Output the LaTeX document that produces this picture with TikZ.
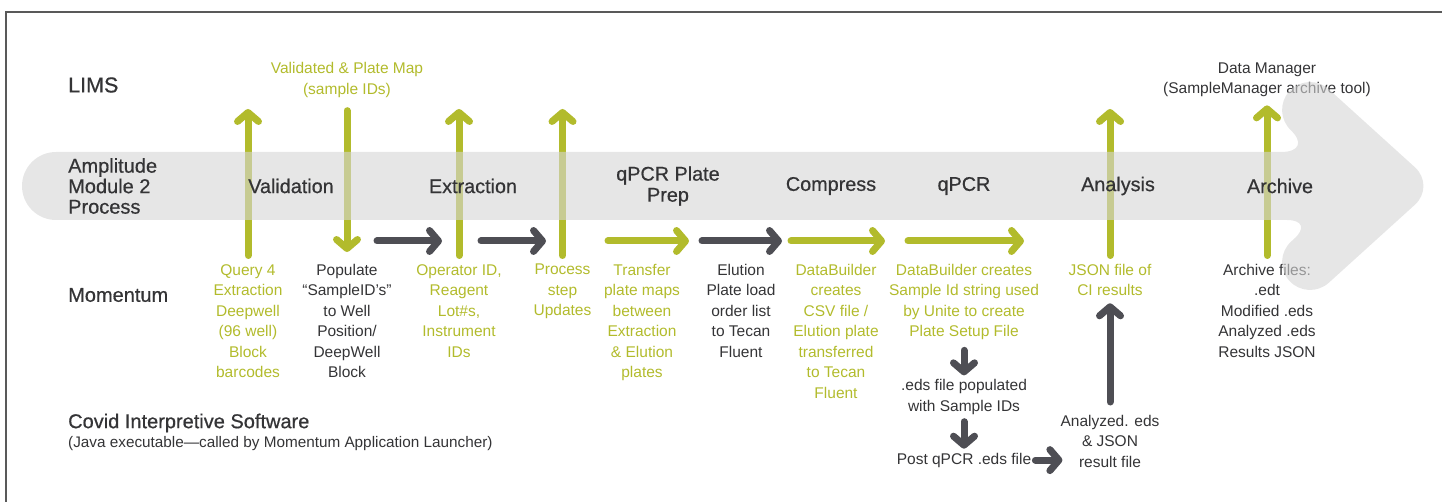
\documentclass[tikz,border=0pt]{standalone}
\usepackage{fontspec}
\setmainfont{Liberation Sans}
\newfontfamily\labelfont{Liberation Sans}[FakeBold=0.6]
\usetikzlibrary{arrows.meta,positioning}

\definecolor{limsgreen}{RGB}{178,187,44}
\definecolor{flowgray}{RGB}{78,78,84}
\definecolor{labelgray}{RGB}{52,52,54}
\definecolor{bandgray}{RGB}{214,214,214}

\begin{document}
\begin{tikzpicture}[
     x = 1pt, y = -1pt, % pixel grid, y runs down
     > = {Straight Barb[length=9pt, width=21pt, round]}, % arrow head style
     line cap = round
 ]

 \tikzstyle{rowlabel} = [
     text = labelgray,
     font = \labelfont\fontsize{20}{20.5}\selectfont,
     align = left,
     anchor = west,
     inner sep = 0pt
 ]
 \tikzstyle{stage} = [
     text = labelgray,
     font = \labelfont\fontsize{19.8}{21}\selectfont,
     align = center,
     inner sep = 0pt
 ]
 \tikzstyle{greennote} = [
     text = limsgreen,
     font = \fontsize{15.5}{20.5}\selectfont,
     align = center,
     inner sep = 0pt
 ]
 \tikzstyle{graynote} = [
     greennote,
     text = labelgray
 ]
 \tikzstyle{greenflow} = [
     ->,
     color = limsgreen,
     line width = 7pt
 ]
 \tikzstyle{grayflow} = [
     ->,
     color = flowgray,
     line width = 7pt
 ]

 \useasboundingbox (0,0) rectangle (1442,502);
 \draw[draw = black!65, line width = 1.5pt, line cap = butt] (6,502) -- (6,12) -- (1442,12);

 % LIMS side
 \node[greennote] (validated) at (347,80) {Validated \& Plate Map\\(sample IDs)};
 \node[graynote] (datamgr) at (1267,80) {Data Manager\\(SampleManager archive tool)};

 % Momentum side
 \node[greennote, anchor = north] (query) at (248,264) {Query 4\\Extraction\\Deepwell\\(96 well)\\Block\\barcodes};
 \node[graynote, anchor = north] (populate) at (347,264) {Populate\\“SampleID’s”\\to Well\\Position/\\DeepWell\\Block};
 \node[greennote, anchor = north] (operator) at (459,264) {Operator ID,\\Reagent\\Lot\#s,\\Instrument\\IDs};
 \node[greennote, anchor = north] (process) at (562.5,264) {Process\\step\\Updates};
 \node[greennote, anchor = north] (transfer) at (642,264) {Transfer\\plate maps\\between\\Extraction\\\& Elution\\plates};
 \node[graynote, anchor = north] (elution) at (741,264) {Elution\\Plate load\\order list\\to Tecan\\Fluent};
 \node[greennote, anchor = north] (csv) at (836,264) {DataBuilder\\creates\\CSV file /\\Elution plate\\transferred\\to Tecan\\Fluent};
 \node[greennote, anchor = north] (sampleid) at (964,264) {DataBuilder creates\\Sample Id string used\\by Unite to create\\Plate Setup File};
 \node[greennote, anchor = north] (json) at (1110,264) {JSON file of\\CI results};
 \node[graynote, anchor = north] (archfiles) at (1267,264) {Archive files:\\.edt\\Modified .eds\\Analyzed .eds\\Results JSON};

 % interpretive software side
 \node[graynote] (eds) [below = 39pt of sampleid] {.eds file populated\\with Sample IDs};
 \node[graynote] (post) [below = 38pt of eds] {Post qPCR .eds file};
 \node[graynote, anchor = north] (analyzed) at (1110,415) {Analyzed. eds\\\& JSON\\result file};

 % up to LIMS
 \coordinate (lims1) at (query |- 0,109);
 \coordinate (lims3) at (operator |- 0,109);
 \coordinate (lims4) at (process |- 0,109);
 \coordinate (lims9) at (json |- 0,109);
 \path[greenflow] (query) edge[shorten < = 8.5pt] (lims1);
 \path[greenflow] (operator) edge[shorten < = 8.5pt] (lims3);
 \path[greenflow] (process) edge[shorten < = 8.5pt] (lims4);
 \path[greenflow] (json) edge[shorten < = 8.5pt] (lims9);
 \path[greenflow] (archfiles) edge[shorten < = 8.5pt, shorten > = 8pt] (datamgr);
 \path[greenflow] (validated) edge[shorten < = 13pt, shorten > = 12pt] (populate);

 % process band
 \fill[bandgray, fill opacity = 0.6, rounded corners = 28pt]
     (1315,152) -- (1270.5,111.9) -- (1308.1,70.5) -- (1435.6,186)
     -- (1308.1,301.5) -- (1270.5,260.1) -- (1315,220)
     [rounded corners = 34pt] -- (22,220) -- (22,152) -- cycle;

 % row labels
 \node[rowlabel, font = \labelfont\fontsize{21.5}{24}\selectfont] (lims) at (68,85) {LIMS};
 \node[rowlabel] (amplitude) at (68,186) {Amplitude\\Module 2\\Process};
 \node[rowlabel] (momentum) at (68,295) {Momentum};
 \node[rowlabel] (covid) at (68,423) {Covid Interpretive Software};
 \node[rowlabel, font = \fontsize{15.3}{18}\selectfont] (java) at (68,444) {(Java executable—called by Momentum Application Launcher)};

 % stages
 \node[stage] (validation) at (291,186) {Validation};
 \node[stage] (extraction) at (473,186) {Extraction};
 \node[stage] (qpcrprep) at (668,186) {qPCR Plate\\Prep};
 \node[stage] (compress) at (831,186) {Compress};
 \node[stage] (qpcr) at (964,186) {qPCR};
 \node[stage] (analysis) at (1118,186) {Analysis};
 \node[stage] (archive) at (1280,186) {Archive};

 % hand-offs
 \coordinate (hop1s) at (377,241);  \coordinate (hop1e) at (442,241);
 \coordinate (hop2s) at (481,241);  \coordinate (hop2e) at (546,241);
 \coordinate (hop3s) at (608,241);  \coordinate (hop3e) at (689,241);
 \coordinate (hop4s) at (702,241);  \coordinate (hop4e) at (782,241);
 \coordinate (hop5s) at (791,241);  \coordinate (hop5e) at (885,241);
 \coordinate (hop6s) at (908,241);  \coordinate (hop6e) at (1024,241);
 \path[grayflow] (hop1s) edge (hop1e);
 \path[grayflow] (hop2s) edge (hop2e);
 \path[greenflow] (hop3s) edge (hop3e);
 \path[grayflow] (hop4s) edge (hop4e);
 \path[greenflow] (hop5s) edge (hop5e);
 \path[greenflow] (hop6s) edge (hop6e);

 \path[grayflow] (sampleid) edge[shorten < = 10pt, shorten > = 4pt] (eds);
 \path[grayflow] (eds) edge[shorten < = 7pt, shorten > = 4pt] (post);
 \path[grayflow] (post.east) edge[shorten < = 4pt, shorten > = -2pt] (post.east -| analyzed.west);
 \path[grayflow] (analyzed) edge[shorten < = 13pt, shorten > = 7pt] (json);
\end{tikzpicture}
\end{document}
